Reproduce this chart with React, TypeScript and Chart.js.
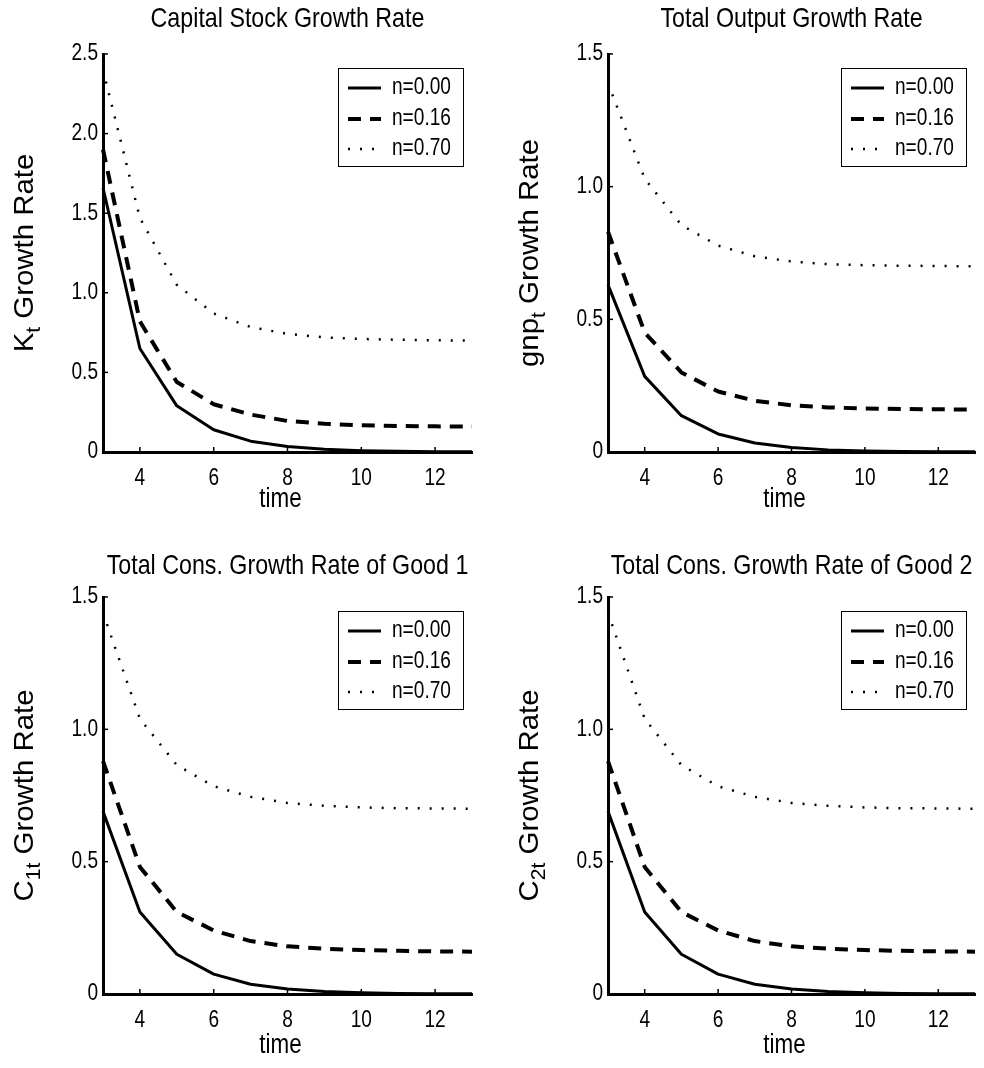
import React, { useEffect, useRef } from 'react';
import { Chart, registerables } from 'chart.js';

Chart.register(...registerables);

// ---------- data ----------
const timeSteps = [3, 4, 5, 6, 7, 8, 9, 10, 11, 12, 13];
const seriesLabels = ['n=0.00', 'n=0.16', 'n=0.70'];
const xTickValues = [4, 6, 8, 10, 12];
const yTicksCapital = [0, 0.5, 1.0, 1.5, 2.0, 2.5];
const yTicksOther = [0, 0.5, 1.0, 1.5];

const panelTitles = [
  'Capital Stock Growth Rate',
  'Total Output Growth Rate',
  'Total Cons. Growth Rate of Good 1',
  'Total Cons. Growth Rate of Good 2',
];
const yLabelMain = ['K', 'gnp', 'C', 'C'];
const yLabelSub = ['t', 't', '1t', '2t'];
const yLabelRest = ' Growth Rate';
const xAxisTitle = 'time';

const capitalN000 = [1.66, 0.65, 0.29, 0.14, 0.068, 0.034, 0.017, 0.008, 0.004, 0.002, 0.001];
const capitalN016 = [1.9, 0.82, 0.44, 0.3, 0.235, 0.195, 0.177, 0.168, 0.163, 0.161, 0.16];
const capitalN070 = [2.4, 1.47, 1.05, 0.87, 0.785, 0.742, 0.72, 0.71, 0.705, 0.702, 0.7];

const outputN000 = [0.63, 0.285, 0.137, 0.068, 0.034, 0.017, 0.008, 0.004, 0.002, 0.001, 0.0005];
const outputN016 = [0.83, 0.45, 0.3, 0.228, 0.193, 0.176, 0.168, 0.164, 0.162, 0.161, 0.16];
const outputN070 = [1.39, 1.03, 0.855, 0.778, 0.738, 0.718, 0.708, 0.704, 0.702, 0.701, 0.7];

const good1N000 = [0.69, 0.31, 0.15, 0.075, 0.037, 0.019, 0.009, 0.005, 0.002, 0.001, 0.0005];
const good1N016 = [0.88, 0.48, 0.31, 0.24, 0.2, 0.18, 0.171, 0.166, 0.163, 0.161, 0.16];
const good1N070 = [1.44, 1.04, 0.865, 0.785, 0.745, 0.722, 0.711, 0.705, 0.702, 0.701, 0.7];

const good2N000 = [0.69, 0.31, 0.15, 0.075, 0.037, 0.019, 0.009, 0.005, 0.002, 0.001, 0.0005];
const good2N016 = [0.88, 0.48, 0.31, 0.24, 0.2, 0.18, 0.171, 0.166, 0.163, 0.161, 0.16];
const good2N070 = [1.44, 1.04, 0.865, 0.785, 0.745, 0.722, 0.711, 0.705, 0.702, 0.701, 0.7];

// ---------- styles ----------
const FONT = "'Liberation Sans', Arial, sans-serif";
const SX = 0.83; // horizontal condensing of horizontal text (Helvetica Narrow look)
const CW = 492;
const CH = 534;

const lineStyles = [
  { borderWidth: 3, borderDash: [] as number[] },
  { borderWidth: 4, borderDash: [13, 9] },
  { borderWidth: 2.5, borderDash: [2, 10] },
];

type PanelCfg = {
  idx: number;
  cx: number;
  cy: number;
  series: number[][];
  yMax: number;
  yTicks: number[];
  left: number;
  right: number;
  top: number;
  bottom: number;
  titleCenter: number;
  timeCenterY: number;
  yLabelX: number;
};

const panels: PanelCfg[] = [
  { idx: 0, cx: 0, cy: 0, series: [capitalN000, capitalN016, capitalN070], yMax: 2.5, yTicks: yTicksCapital,
    left: 103, right: 472, top: 54, bottom: 452, titleCenter: 19, timeCenterY: 500, yLabelX: 33 },
  { idx: 1, cx: 492, cy: 0, series: [outputN000, outputN016, outputN070], yMax: 1.5, yTicks: yTicksOther,
    left: 116, right: 483, top: 54, bottom: 452, titleCenter: 19, timeCenterY: 500, yLabelX: 46 },
  { idx: 2, cx: 0, cy: 534, series: [good1N000, good1N016, good1N070], yMax: 1.5, yTicks: yTicksOther,
    left: 103, right: 472, top: 63, bottom: 460, titleCenter: 32, timeCenterY: 512, yLabelX: 33 },
  { idx: 3, cx: 492, cy: 534, series: [good2N000, good2N016, good2N070], yMax: 1.5, yTicks: yTicksOther,
    left: 116, right: 483, top: 63, bottom: 460, titleCenter: 32, timeCenterY: 512, yLabelX: 46 },
];

// ---------- plugins ----------
// Condenses all horizontally drawn text around its anchor point.
const narrowTextPlugin = {
  id: 'narrowText',
  beforeDraw(chart: any) {
    const ctx = chart.ctx;
    if (ctx.__origFillText) return;
    const orig = ctx.fillText;
    ctx.__origFillText = orig;
    ctx.fillText = function (text: string, x: number, y: number, maxWidth?: number) {
      this.save();
      this.translate(x, y);
      this.scale(SX, 1);
      if (typeof maxWidth === 'number' && isFinite(maxWidth)) {
        orig.call(this, text, 0, 0, maxWidth / SX);
      } else {
        orig.call(this, text, 0, 0);
      }
      this.restore();
    };
  },
  afterDraw(chart: any) {
    const ctx = chart.ctx;
    if (ctx.__origFillText) {
      ctx.fillText = ctx.__origFillText;
      delete ctx.__origFillText;
    }
  },
};

const innerTicksPlugin = {
  id: 'innerTicks',
  afterDatasetsDraw(chart: any) {
    const { ctx, chartArea, scales } = chart;
    ctx.save();
    ctx.strokeStyle = '#000';
    ctx.lineWidth = 1.5;
    scales.x.ticks.forEach((t: any) => {
      const px = scales.x.getPixelForValue(t.value);
      ctx.beginPath();
      ctx.moveTo(px, chartArea.bottom);
      ctx.lineTo(px, chartArea.bottom - 5);
      ctx.stroke();
    });
    scales.y.ticks.forEach((t: any) => {
      const py = scales.y.getPixelForValue(t.value);
      ctx.beginPath();
      ctx.moveTo(chartArea.left, py);
      ctx.lineTo(chartArea.left + 5, py);
      ctx.stroke();
    });
    ctx.restore();
  },
};

// x-axis title, placed under the axis (slightly left of centre, as in the original)
const xTitlePlugin = {
  id: 'xTitle',
  afterDraw(chart: any, _args: any, opts: any) {
    const { ctx, chartArea } = chart;
    ctx.save();
    ctx.font = `27px ${FONT}`;
    ctx.fillStyle = '#000';
    ctx.textAlign = 'center';
    ctx.textBaseline = 'middle';
    ctx.fillText(opts.text, (chartArea.left + chartArea.right) / 2 - 7, opts.y);
    ctx.restore();
  },
};

const yLabelPlugin = {
  id: 'yLabel',
  afterDraw(chart: any, _args: any, opts: any) {
    const { ctx, chartArea } = chart;
    const fill = ctx.__origFillText || ctx.fillText;
    const cy = (chartArea.top + chartArea.bottom) / 2;
    const size = opts.size;
    const subSize = size * 0.72;
    const mainFont = `${size}px ${FONT}`;
    const subFont = `${subSize}px ${FONT}`;
    ctx.save();
    ctx.translate(opts.x, cy);
    ctx.rotate(-Math.PI / 2);
    ctx.scale(opts.stretch, 1);
    ctx.fillStyle = '#000';
    ctx.textBaseline = 'alphabetic';
    ctx.textAlign = 'left';
    ctx.font = mainFont;
    const w1 = ctx.measureText(opts.main).width;
    const w3 = ctx.measureText(opts.rest).width;
    ctx.font = subFont;
    const w2 = ctx.measureText(opts.sub).width;
    let x = -(w1 + w2 + w3) / 2;
    ctx.font = mainFont;
    fill.call(ctx, opts.main, x, 0);
    x += w1;
    ctx.font = subFont;
    fill.call(ctx, opts.sub, x, size * 0.26);
    x += w2;
    ctx.font = mainFont;
    fill.call(ctx, opts.rest, x, 0);
    ctx.restore();
  },
};

const boxLegendPlugin = {
  id: 'boxLegend',
  afterDraw(chart: any) {
    const { ctx, chartArea } = chart;
    const w = 125;
    const h = 98;
    const x0 = Math.round(chartArea.right - 9 - w);
    const y0 = Math.round(chartArea.top + 14);
    const rows = [20, 51, 81];
    ctx.save();
    ctx.fillStyle = '#fff';
    ctx.fillRect(x0, y0, w, h);
    ctx.strokeStyle = '#000';
    ctx.lineWidth = 1;
    ctx.strokeRect(x0 + 0.5, y0 + 0.5, w, h);
    chart.data.datasets.forEach((ds: any, i: number) => {
      const cy = y0 + rows[i];
      ctx.setLineDash(ds.borderDash || []);
      ctx.lineWidth = ds.borderWidth;
      ctx.strokeStyle = ds.borderColor;
      ctx.beginPath();
      ctx.moveTo(x0 + 10, cy);
      ctx.lineTo(x0 + 43, cy);
      ctx.stroke();
      ctx.setLineDash([]);
      ctx.font = `23px ${FONT}`;
      ctx.fillStyle = '#000';
      ctx.textBaseline = 'middle';
      ctx.textAlign = 'left';
      ctx.fillText(ds.label, x0 + 54, cy);
    });
    ctx.restore();
  },
};

function Panel({ cfg }: { cfg: PanelCfg }) {
  const ref = useRef<HTMLCanvasElement>(null);
  useEffect(() => {
    const canvas = ref.current;
    if (!canvas) return;
    const titleSize = 28;
    const titleLH = titleSize * 1.2;
    const titlePadTop = cfg.titleCenter - titleLH / 2;
    const titlePadBottom = cfg.top - titlePadTop - titleLH;
    const chart = new Chart(canvas, {
      type: 'line',
      data: {
        datasets: cfg.series.map((arr, i) => ({
          label: seriesLabels[i],
          data: timeSteps.map((t, j) => ({ x: t, y: arr[j] })),
          borderColor: '#000',
          backgroundColor: '#000',
          borderWidth: lineStyles[i].borderWidth,
          borderDash: lineStyles[i].borderDash,
          borderCapStyle: 'butt',
          borderJoinStyle: 'round',
          pointRadius: 0,
          tension: 0,
          fill: false,
          clip: false,
        })),
      },
      options: {
        responsive: false,
        animation: false,
        events: [],
        layout: { padding: { left: 0, top: 0, bottom: 0, right: CW - cfg.right } },
        plugins: {
          legend: { display: false },
          tooltip: { enabled: false },
          title: {
            display: true,
            text: panelTitles[cfg.idx],
            fullSize: false,
            color: '#000',
            font: { family: FONT, size: titleSize, weight: 'normal', lineHeight: 1.2 },
            padding: { top: titlePadTop, bottom: titlePadBottom },
          },
          xTitle: { text: xAxisTitle, y: cfg.timeCenterY },
          yLabel: {
            x: cfg.yLabelX,
            size: 28,
            stretch: 1.05,
            main: yLabelMain[cfg.idx],
            sub: yLabelSub[cfg.idx],
            rest: yLabelRest,
          },
        } as any,
        scales: {
          x: {
            type: 'linear',
            min: 3,
            max: 13,
            afterBuildTicks: (s: any) => {
              s.ticks = xTickValues.map((v) => ({ value: v }));
            },
            afterFit: (s: any) => {
              s.height = CH - cfg.bottom;
            },
            grid: { display: false, drawTicks: false },
            border: { display: true, color: '#000', width: 3 },
            ticks: {
              color: '#000',
              font: { family: FONT, size: 23, lineHeight: 1.2 },
              padding: 13,
              maxRotation: 0,
              autoSkip: false,
            },
            title: { display: false },
          },
          y: {
            type: 'linear',
            min: 0,
            max: cfg.yMax,
            afterBuildTicks: (s: any) => {
              s.ticks = cfg.yTicks.map((v) => ({ value: v }));
            },
            afterFit: (s: any) => {
              s.width = cfg.left;
            },
            grid: { display: false, drawTicks: false },
            border: { display: true, color: '#000', width: 3 },
            ticks: {
              color: '#000',
              font: { family: FONT, size: 23, lineHeight: 1.2 },
              padding: 5,
              callback: (v: any) => (Number(v) === 0 ? '0' : Number(v).toFixed(1)),
            },
          },
        },
      } as any,
      plugins: [innerTicksPlugin, yLabelPlugin, xTitlePlugin, boxLegendPlugin, narrowTextPlugin],
    });
    return () => chart.destroy();
  }, []);
  return (
    <canvas
      ref={ref}
      width={CW}
      height={CH}
      style={{ position: 'absolute', left: cfg.cx, top: cfg.cy, width: CW, height: CH }}
    />
  );
}

export default function App() {
  return (
    <div style={{ position: 'absolute', left: 0, top: 0, width: 984, height: 1068, background: '#fff' }}>
      {panels.map((p) => (
        <Panel key={p.idx} cfg={p} />
      ))}
    </div>
  );
}
